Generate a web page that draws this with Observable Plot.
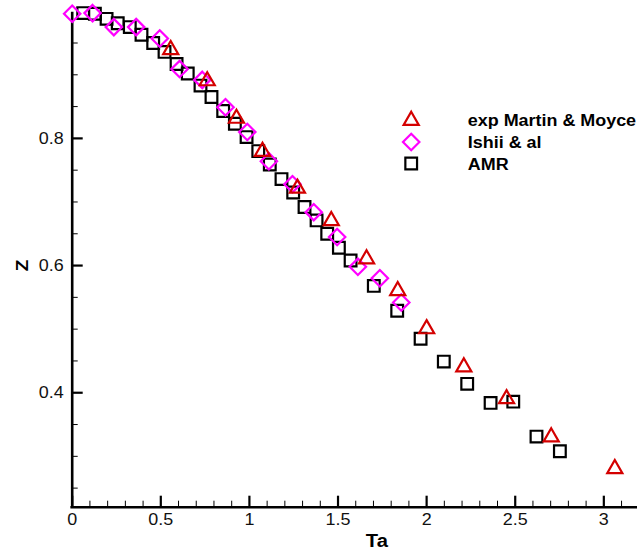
<!DOCTYPE html>
<html><head><meta charset="utf-8">
<script src="https://cdn.jsdelivr.net/npm/d3@7"></script>
<script src="https://cdn.jsdelivr.net/npm/@observablehq/plot@0.6"></script>
<style>
html,body{margin:0;padding:0;background:#fff;}
</style>
</head><body><div id="chart"></div>
<script>
// exp Martin & Moyce (triangles)
const martinX = [0.556,0.762,0.927,1.074,1.271,1.462,1.661,1.837,2.0,2.21,2.451,2.703,3.062];
const martinZ = [0.941,0.892,0.833,0.781,0.723,0.672,0.612,0.562,0.502,0.442,0.392,0.332,0.282];
// Ishii & al (diamonds)
const ishiiX = [0.0,0.115,0.235,0.361,0.494,0.606,0.734,0.865,0.988,1.110,1.243,1.363,1.495,1.612,1.736,1.857];
const ishiiZ = [0.996,0.997,0.975,0.975,0.957,0.909,0.892,0.849,0.810,0.764,0.728,0.684,0.645,0.598,0.580,0.542];
// AMR (squares)
const amrX = [0.062,0.128,0.194,0.257,0.325,0.391,0.457,0.521,0.589,0.652,0.724,0.786,0.852,0.918,0.984,1.050,1.115,1.181,1.247,1.311,1.379,1.439,1.505,1.571,1.702,1.834,1.966,2.097,2.229,2.361,2.489,2.620,2.752];
const amrZ = [0.997,0.996,0.988,0.981,0.975,0.963,0.950,0.936,0.917,0.902,0.883,0.865,0.843,0.823,0.802,0.780,0.759,0.736,0.715,0.692,0.671,0.650,0.628,0.608,0.568,0.529,0.485,0.449,0.414,0.384,0.386,0.331,0.308];

const xMajor = [0,0.5,1,1.5,2,2.5,3];
const xMinor = [0.1,0.2,0.3,0.4,0.6,0.7,0.8,0.9,1.1,1.2,1.3,1.4,1.6,1.7,1.8,1.9,2.1,2.2,2.3,2.4,2.6,2.7,2.8,2.9,3.1];
const yMajor = [0.4,0.6,0.8];
const yMinor = [0.25,0.3,0.35,0.45,0.5,0.55,0.65,0.7,0.75,0.85,0.9,0.95];

const seriesNames = ["exp Martin & Moyce","Ishii & al","AMR"];
const seriesColors = ["#d40000","#ff00ff","#000000"];

const W = 637, H = 554;
const mL = 71.7, mR = 0, mT = 13, mB = 47.3;
const frameW = W - mL - mR, frameH = H - mT - mB;

const toRows = (xs, zs) => xs.map((x, i) => ({x, z: zs[i]}));
const martin = toRows(martinX, martinZ);
const ishii = toRows(ishiiX, ishiiZ);
const amr = toRows(amrX, amrZ);

const sw = 2.2;
const symR = {tri: 7.2, dia: 7.4, sq: 6.6};
const legText = {frameAnchor: "top-left", dx: 395.6, textAnchor: "start", lineAnchor: "middle", fontWeight: "bold", fontSize: 16, fill: "#000"};

const chart = Plot.plot({
  width: W, height: H,
  marginLeft: mL, marginRight: mR, marginTop: mT, marginBottom: mB,
  style: {fontFamily: "'Liberation Sans', Arial, sans-serif", background: "#fff", color: "#000"},
  x: {domain: [0, 3.19], label: null},
  y: {domain: [0.22, 0.9964], label: null},
  marks: [
    // minor ticks
    Plot.tickX(xMinor, {x: d => d, insetTop: frameH - 6, stroke: "#000", strokeWidth: 1}),
    Plot.tickY(yMinor, {y: d => d, insetRight: frameW - 6, stroke: "#000", strokeWidth: 1}),
    // major ticks
    Plot.tickX(xMajor, {x: d => d, insetTop: frameH - 11, stroke: "#000", strokeWidth: 2.2}),
    Plot.tickY(yMajor, {y: d => d, insetRight: frameW - 11, stroke: "#000", strokeWidth: 2.2}),
    // axis lines
    Plot.ruleX([0], {stroke: "#000", strokeWidth: 2.6, strokeLinecap: "square"}),
    Plot.ruleY([0.22], {stroke: "#000", strokeWidth: 2.6, strokeLinecap: "square"}),
    // tick labels
    Plot.axisX(xMajor, {tickSize: 0, tickPadding: 6, tickFormat: d => String(d), fontSize: 16, label: null, fill: "#111"}),
    Plot.axisY(yMajor, {tickSize: 0, tickPadding: 8.5, tickFormat: d => String(d), fontSize: 16, label: null, fill: "#111"}),
    // axis titles
    Plot.text(["Ta"], {frameAnchor: "bottom", lineAnchor: "middle", dx: 22, dy: 34, fontWeight: "bold", fontSize: 18, fill: "#000"}),
    Plot.text(["Z"], {frameAnchor: "left", lineAnchor: "middle", dx: -50, dy: 5, rotate: -90, textAnchor: "middle", fontWeight: "bold", fontSize: 17, fill: "#000"}),
    // data
    Plot.dot(amr, {x: "x", y: "z", symbol: "square", r: symR.sq, stroke: seriesColors[2], strokeWidth: sw, fill: "none"}),
    Plot.dot(ishii, {x: "x", y: "z", symbol: "diamond2", r: symR.dia, stroke: seriesColors[1], strokeWidth: sw, fill: "none"}),
    Plot.dot(martin, {x: "x", y: "z", symbol: "triangle2", r: symR.tri, dy: 1, stroke: seriesColors[0], strokeWidth: sw, fill: "none"}),
    // legend
    Plot.dot([seriesNames[0]], {frameAnchor: "top-left", dx: 339, dy: 107, symbol: "triangle2", r: symR.tri, stroke: seriesColors[0], strokeWidth: sw, fill: "none"}),
    Plot.dot([seriesNames[1]], {frameAnchor: "top-left", dx: 339, dy: 128.5, symbol: "diamond2", r: symR.dia, stroke: seriesColors[1], strokeWidth: sw, fill: "none"}),
    Plot.dot([seriesNames[2]], {frameAnchor: "top-left", dx: 339, dy: 150, symbol: "square", r: symR.sq, stroke: seriesColors[2], strokeWidth: sw, fill: "none"}),
    Plot.text([seriesNames[0]], {...legText, text: d => d, dy: 107.5}),
    Plot.text([seriesNames[1]], {...legText, text: d => d, dy: 129}),
    Plot.text([seriesNames[2]], {...legText, text: d => d, dy: 151.5})
  ]
});
document.getElementById("chart").appendChild(chart);
// widen glyphs slightly to match the reference's broader Helvetica rendering
chart.querySelectorAll("text").forEach(t => {
  const L = t.getComputedTextLength();
  if (L > 0) {
    t.setAttribute("textLength", (L * 1.12).toFixed(2));
    t.setAttribute("lengthAdjust", "spacingAndGlyphs");
  }
});
</script>
</body></html>
